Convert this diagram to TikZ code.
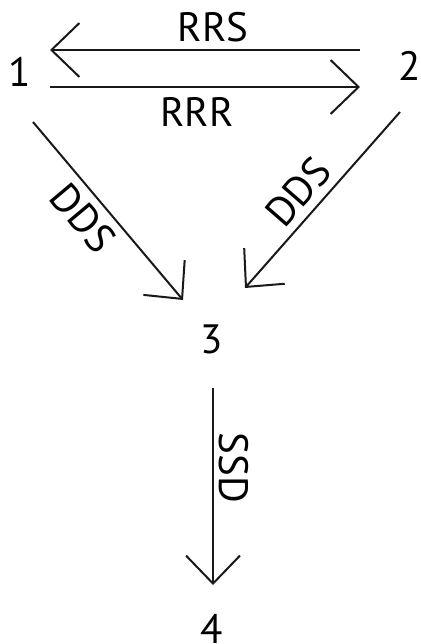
\documentclass[tikz,border=0pt]{standalone}
\usepackage{fontspec}
\setmainfont{PT Sans}
\usetikzlibrary{arrows.meta,calc}
\tikzset{
  arr/.style={line width=2pt, draw=black!90, -{Straight Barb[length=28pt,width=54pt,line width=2pt]}},
  num/.style={font=\fontsize{41}{41}\selectfont, inner sep=0pt},
  lbl/.style={font=\fontsize{41}{41}\selectfont, inner sep=0pt}
}
\begin{document}
\begin{tikzpicture}[x=1pt,y=-1pt]
\useasboundingbox (0,0) rectangle (420,644);
\node[num] (n1) at (20,72) {1};
\node[num] (n2) at (410,66) {2};
\node[num] (n3) at (212,339) {3};
\node[num] (n4) at (212,629) {4};
\coordinate (a1s) at ($(n2)+(-50,-16)$);
\coordinate (a1e) at ($(n1)+(30,-22)$);
\coordinate (a2s) at ($(n1)+(30,15)$);
\coordinate (a2e) at ($(n2)+(-50,21)$);
\draw[arr] (a1s) -- (a1e);
\draw[arr] (a2s) -- (a2e);
\draw[arr] ($(n1)+(13,50)$) -- ($(n3)+(-29,-39)$);
\draw[arr] ($(n2)+(-10,46)$) -- ($(n3)+(33,-51)$);
\draw[arr] ($(n3)+(1,49)$) -- ($(n4)+(1,-44)$);
\node[lbl] (lRRS) at (213,27) {RRS};
\node[lbl] (lRRR) at (197,112) {RRR};
\node[lbl, rotate=-50] (lDDS1) at (83,218) {DDS};
\node[lbl, rotate=49] (lDDS2) at (298,192) {DDS};
\node[lbl, rotate=-90] (lSSD) at (234,468) {SSD};
\end{tikzpicture}
\end{document}
